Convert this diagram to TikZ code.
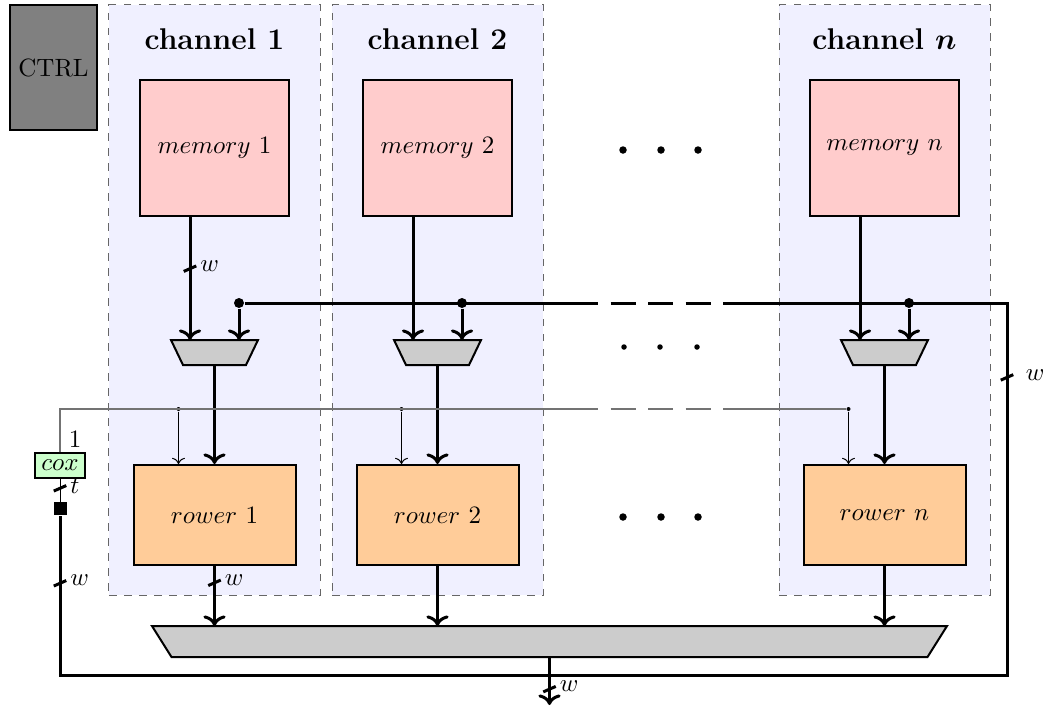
\documentclass[tikz,border=0pt]{standalone}
\usepackage{tikz}
\usetikzlibrary{shapes,arrows}
\usetikzlibrary{arrows.meta}
\usepackage{amsmath,amssymb}
\newcommand{\busw}[3][]{\draw[very thick] (#2) +(-2.5pt,-1.1pt) -- +(2.5pt,1.1pt) node[right, inner sep=1pt, #1] {#3};}
\newcommand{\muxdraw}[2]{\draw[thick, fill=gray!40] (#1.north west) -- (#1.north east)
  -- ([xshift=-#2]#1.south east) -- ([xshift=#2]#1.south west) -- cycle;}

\begin{document}
\begin{tikzpicture}[x=0.4pt, y=-0.4pt,
    chan/.style={draw=black!60, dashed, fill=blue!6, minimum width=84.4pt, minimum height=236pt},
    chtitle/.style={font=\large\bfseries\boldmath},
    mem/.style={draw, thick, fill=red!20, minimum width=59.6pt, minimum height=54.4pt},
    rower/.style={draw, thick, fill=orange!40, minimum width=64.8pt, minimum height=40pt},
    mux/.style={rectangle, inner sep=0pt, outer sep=0pt, minimum width=34.8pt, minimum height=10pt},
    bus/.style={very thick},
    ctl/.style={black!55, line width=0.5pt},
    junc/.style={circle, fill, inner sep=0pt, minimum size=#1}]

      \useasboundingbox (0,0) rectangle (1046,707);

      \node[chan] (ch1) at (214.5,300) {};
      \node[chan] (ch2) at (437.5,300) {};
      \node[chan] (chn) at (884.5,300) {};
      \node[chtitle] (t1) at (214.5,39) {channel 1};
      \node[chtitle] (t2) at (437.5,39) {channel 2};
      \node[chtitle] (tn) at (884.5,39) {channel $n$};
      \node[draw, thick, fill=gray, minimum width=34.8pt, minimum height=50pt] (ctrl) at (53.5,67.5) {CTRL};

      \node[mem] (mem1) at (214.5,148) {$memory~1$};
      \node[mem] (mem2) at (437.5,148) {$memory~2$};
      \node[mem] (memn) at (884.5,148) {$memory~n$};
      \node[mux] (mux1) at (214.5,352.5) {};
      \node[mux] (mux2) at (437.5,352.5) {};
      \node[mux] (muxn) at (884.5,352.5) {};
      \muxdraw{mux1}{4.8pt}
      \muxdraw{mux2}{4.8pt}
      \muxdraw{muxn}{4.8pt}
      \node[rower] (row1) at (214.5,515) {$rower~1$};
      \node[rower] (row2) at (437.5,515) {$rower~2$};
      \node[rower] (rown) at (884.5,515) {$rower~n$};
      \node[mux, minimum width=318pt, minimum height=12.4pt] (out) at (549.5,641.5) {};
      \muxdraw{out}{7.8pt}
      \node[draw, semithick, fill=green!20, minimum width=20pt, minimum height=10pt, inner sep=0pt] (cox) at (60,465.5) {$cox$};
      \node[fill, minimum size=5.2pt, inner sep=0pt] (reg) at (60,508.5) {};

      \coordinate (busR) at (1007,303);
      \coordinate (busBR) at (1007,675);
      \coordinate (busBL) at (60,675);
      \coordinate (gapL) at (598,303);
      \coordinate (gapR) at (723,303);
      \coordinate (ctlL) at (60,409);
      \coordinate (outend) at (549.5,705);

      \coordinate (mux1-l) at ([xshift=-9.8pt]mux1.north);
      \coordinate (mux1-r) at ([xshift=9.8pt]mux1.north);
      \coordinate (mux2-l) at ([xshift=-9.8pt]mux2.north);
      \coordinate (mux2-r) at ([xshift=9.8pt]mux2.north);
      \coordinate (muxn-l) at ([xshift=-9.8pt]muxn.north);
      \coordinate (muxn-r) at ([xshift=9.8pt]muxn.north);

      \node[junc=4pt] (j1) at (mux1-r |- busR) {};
      \node[junc=4pt] (j2) at (mux2-r |- busR) {};
      \node[junc=4pt] (jn) at (muxn-r |- busR) {};
      \node[junc=1.6pt] (c1) at ([xshift=-14.4pt]row1.north |- ctlL) {};
      \node[junc=1.6pt] (c2) at ([xshift=-14.4pt]row2.north |- ctlL) {};
      \node[junc=1.6pt] (cn) at ([xshift=-14.4pt]rown.north |- ctlL) {};

      \draw[bus,->] (mem1.south -| mux1-l) -- coordinate[pos=0.42] (w1) (mux1-l);
      \draw[bus,->] (mem2.south -| mux2-l) -- (mux2-l);
      \draw[bus,->] (memn.south -| muxn-l) -- (muxn-l);
      \draw[bus,->] (j1) -- (mux1-r);
      \draw[bus,->] (j2) -- (mux2-r);
      \draw[bus,->] (jn) -- (muxn-r);
      \draw[bus,->] (mux1.south) -- (row1.north);
      \draw[bus,->] (mux2.south) -- (row2.north);
      \draw[bus,->] (muxn.south) -- (rown.north);

      \draw[bus] (j1) -- (gapL);
      \draw[bus, dash pattern=on 10pt off 5pt, dash phase=10pt] (gapL) -- (gapR);
      \draw[bus] (gapR) -- (busR) -- coordinate[pos=0.2] (w5) (busBR) -- (busBL)
        -- coordinate[pos=0.575] (w6) (reg.south);
      \draw (reg.north) -- coordinate[pos=0.58] (wt) (cox.south);

      \draw[ctl] (cox.north) -- node[right, black, pos=0.3] {$1$} (ctlL) -- (gapL |- ctlL);
      \draw[ctl, dash pattern=on 10pt off 5pt, dash phase=10pt] (gapL |- ctlL) -- (gapR |- ctlL);
      \draw[ctl] (gapR |- ctlL) -- (cn);
      \draw[->] (c1) -- (c1 |- row1.north);
      \draw[->] (c2) -- (c2 |- row2.north);
      \draw[->] (cn) -- (cn |- rown.north);

      \draw[bus,->] (row1.south) -- coordinate[pos=0.28] (w2) (row1.south |- out.north);
      \draw[bus,->] (row2.south) -- (row2.south |- out.north);
      \draw[bus,->] (rown.south) -- (rown.south |- out.north);
      \draw[bus,->] (out.south) -- coordinate[pos=0.67] (w3) (outend);

      \busw{w1}{$w$}
      \busw{w2}{$w$}
      \busw{w3}{$w$}
      \busw[xshift=3.4pt]{w5}{$w$}
      \busw{w6}{$w$}
      \busw{wt}{$t$}

      \fill (623,150) circle (1.5pt) (661,150) circle (1.5pt) (698,150) circle (1.5pt);
      \fill (624,347) circle (1.1pt) (660,347) circle (1.1pt) (697,347) circle (1.1pt);
      \fill (623,517) circle (1.5pt) (661,517) circle (1.5pt) (698,517) circle (1.5pt);
\end{tikzpicture}
\end{document}
